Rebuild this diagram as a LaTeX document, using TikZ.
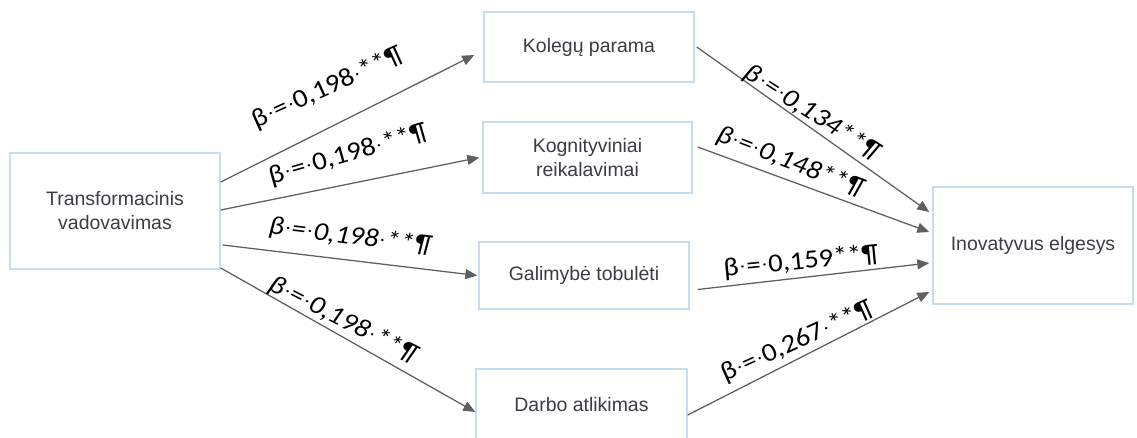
\documentclass[tikz,border=0pt]{standalone}
\usepackage{fontspec}
\usepackage{graphicx}
\setmainfont{Liberation Sans}
\newfontfamily\labfont[FakeStretch=1.1]{Carlito}
\usetikzlibrary{arrows.meta,calc}
\definecolor{boxline}{HTML}{C5DDF0}
\definecolor{boxtext}{HTML}{3A3D44}
\definecolor{arr}{HTML}{5F5F5F}
\newcommand\sdot{\makebox[0.3em]{\raisebox{0.12em}{\scalebox{0.6}{·}}}}
\begin{document}
\begin{tikzpicture}[x=0.75pt,y=-0.75pt,
  box/.style={draw=boxline,line width=1.1pt,fill=white,text=boxtext,align=center,
    font=\fontsize{14.6}{18}\selectfont,inner sep=0pt},
  conn/.style={draw=arr,line width=0.95pt,-{Triangle[length=9pt,width=7.5pt]}},
  lab/.style={font=\labfont\fontsize{19.5}{22}\selectfont,text=black,inner sep=0pt},
  labi/.style={lab,font=\labfont\itshape\fontsize{19.5}{22}\selectfont}]
\useasboundingbox (0,0) rectangle (1137,437);
\node[box,minimum width=157.5pt,minimum height=87pt] (tv) at (115,211) {Transformacinis\\vadovavimas};
\node[box,minimum width=157.5pt,minimum height=52.5pt] (kp) at (589,47) {Kolegų parama};
\node[box,minimum width=156.75pt,minimum height=53.25pt] (kr) at (587.5,157.5) {Kognityviniai\\reikalavimai};
\node[box,minimum width=157.5pt,minimum height=50.25pt] (gt) at (584,275.5) {Galimybė tobulėti};
\node[box,minimum width=158.25pt,minimum height=53.25pt] (da) at (581.5,404.5) {Darbo atlikimas};
\node[box,minimum width=150pt,minimum height=87.75pt] (ie) at (1033,245.5) {Inovatyvus elgesys};
% connector ends
\coordinate (s1) at ($(tv.east)+(0,-29)$);
\coordinate (s2) at ($(tv.east)+(0,-1)$);
\coordinate (s3) at ($(tv.east)+(2,34)$);
\coordinate (s4) at ($(tv.east)+(0,57)$);
\coordinate (e1) at ($(kp.west)+(-9,8)$);
\coordinate (e2) at ($(kr.west)+(-3,0)$);
\coordinate (e3) at ($(gt.west)+(-1,0)$);
\coordinate (e4) at ($(da.west)+(0,7.5)$);
\coordinate (s5) at ($(kp.east)+(2,0)$);
\coordinate (s6) at ($(kr.east)+(5,-10.5)$);
\coordinate (s7) at ($(gt.east)+(8,14)$);
\coordinate (s8) at ($(da.east)+(0,10.5)$);
\coordinate (e5) at ($(ie.west)+(-3,-33.5)$);
\coordinate (e6) at ($(ie.west)+(-3,-13.5)$);
\coordinate (e7) at ($(ie.west)+(-3,17.5)$);
\coordinate (e8) at ($(ie.west)+(-3,46.5)$);
\draw[conn] (s1) -- (e1);
\draw[conn] (s2) -- (e2);
\draw[conn] (s3) -- (e3);
\draw[conn] (s4) -- (e4);
\draw[conn] (s5) -- (e5);
\draw[conn] (s6) -- (e6);
\draw[conn] (s7) -- (e7);
\draw[conn] (s8) -- (e8);
% labels
\node[lab,rotate=24.4] (l1) at (328,88) {β\sdot=\sdot0,198\sdot**¶};
\node[lab,rotate=16] (l2) at (348,155) {β\sdot=\sdot0,198\sdot**¶};
\node[labi,rotate=-7] (l3) at (350,237) {β\sdot=\sdot0,198\sdot**¶};
\node[labi,rotate=-27] (l4) at (343,320) {β\sdot=\sdot0,198\sdot**¶};
\node[labi,rotate=-32.7] (l5) at (812,113) {β\sdot=\sdot0,134**¶};
\node[labi,rotate=-21.3] (l6) at (790,162) {β\sdot=\sdot0,148**¶};
\node[lab,rotate=5.6] (l7) at (801,262) {β\sdot=\sdot0,159**¶};
\node[lab,rotate=24.2] (l8) at (797,342) {β\sdot=\sdot0,267\sdot**¶};
\end{tikzpicture}
\end{document}
